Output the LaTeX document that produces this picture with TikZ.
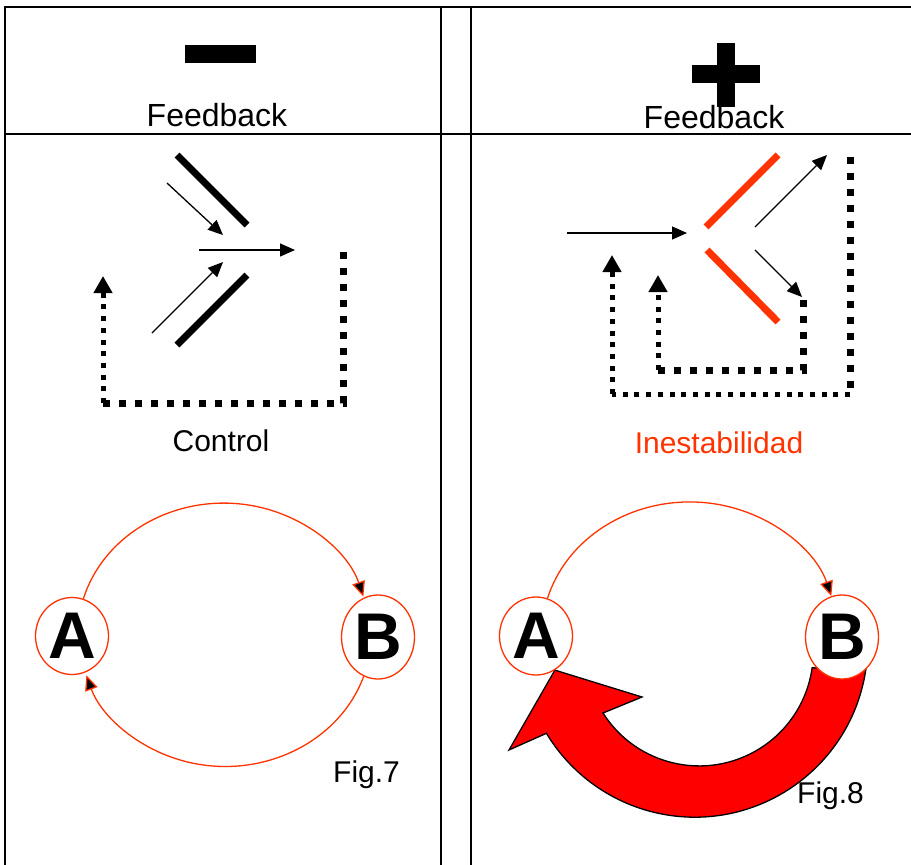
\documentclass[tikz,border=0pt]{standalone}
\usepackage{fontspec}
\setmainfont{Liberation Sans}
\usetikzlibrary{arrows.meta,shapes.geometric}
\definecolor{orred}{HTML}{FF3300}
\definecolor{bigred}{HTML}{FF0000}
\pgfdeclarelayer{back}
\pgfsetlayers{back,main}

\begin{document}
\begin{tikzpicture}[x=1pt, y=-1pt,
  rule/.style={line width=1.6pt},
  bar/.style={line width=7pt},
  flow/.style={line width=1.3pt, -{Triangle[length=15pt, width=13pt]}},
  bigdots/.style={line width=7pt, dash pattern=on 7pt off 9pt},
  smalldots/.style={line width=5pt, dash pattern=on 5pt off 6.7pt},
  tip/.style={-{Triangle[length=17pt, width=18pt]}},
  lbl/.style={font=\fontsize{30}{34}\selectfont, anchor=base, inner sep=0pt},
  head/.style={font=\fontsize{32}{36}\selectfont, anchor=base, inner sep=0pt},
  letter/.style={ellipse, draw=orred, fill=white, line width=1.3pt, inner sep=0pt,
    minimum width=73pt, font=\fontsize{66}{70}\selectfont\bfseries},
  loop/.style={orred, line width=1.3pt, -{Triangle[length=15pt, width=13pt, fill=black]}},
  bigarrow/.style={fill=bigred, draw=black, line width=1.3pt}]
    \useasboundingbox (0,0) rectangle (911,865);
    \begin{pgfonlayer}{back}
      \fill[white] (0,0) rectangle (911,865);
    \end{pgfonlayer}

    \draw[rule] (5,865) -- (5,7) -- (911,7);
    \draw[rule] (5,134) -- (911,134);
    \draw[rule] (441,7) -- (441,865);
    \draw[rule] (471,7) -- (471,865);

    \node[head] (fbneg) at (217,126) {Feedback};
    \node[head] (fbpos) at (714,128) {Feedback};
    \fill (185,45) rectangle (256,63);
    \fill (692,65) rectangle (760,83);
    \fill (717,43) rectangle (735,107);

    \draw[bar] (177,155) -- (247,225);
    \draw[bar] (177,345) -- (247,275);
    \draw[flow] (167,183) -- (223,235);
    \draw[flow] (152,333) -- (223,262);
    \draw[flow] (199,250) -- (295,250);
    \draw[bigdots] (343,252) -- (343,403) -- (103,403);
    \draw[smalldots, tip] (103,403) -- (103,276);
    \node[lbl] (ctrl) at (221,451) {Control};

    \draw[bar, orred] (706,227) -- (778,155);
    \draw[bar, orred] (707,250) -- (778,322);
    \draw[flow] (567,233) -- (687,233);
    \draw[flow] (755,227) -- (827,155);
    \draw[flow] (755,250) -- (802,297);
    \draw[bigdots] (803,300) -- (803,370) -- (658,370);
    \draw[smalldots, tip] (658,370) -- (658,275);
    \draw[bigdots] (850,157) -- (850,394);
    \draw[smalldots] (850,394) -- (612,394);
    \draw[smalldots, tip] (612,394) -- (612,255);
    \node[lbl, text=orred] (inest) at (719,453) {Inestabilidad};

    \node[letter, minimum height=77pt] (A1) at (72,636) {A};
    \node[letter, minimum height=84pt] (B1) at (378,637) {B};
    \draw[loop] (A1.73) arc[start angle=196, end angle=343, x radius=146, y radius=132];
    \draw[loop] (B1.250) arc[start angle=18.5, end angle=162, x radius=146, y radius=132];
    \node[lbl, anchor=base west] (fig7) at (333,782) {Fig.7};

    \node[letter, fill=none, minimum height=78pt] (A2) at (536,636) {A};
    \node[letter, minimum height=84pt] (B2) at (842,637) {B};
    \draw[loop] (A2.73) arc[start angle=196, end angle=343, x radius=148, y radius=133];
    \begin{pgfonlayer}{back}
      \filldraw[bigarrow] (B2.-54) arc[start angle=8.5, end angle=149, radius=173]
        -- (509,750) -- (A2.-61) -- (642,697) -- (603,713)
        arc[start angle=147.6, end angle=8, radius=114] -- cycle;
    \end{pgfonlayer}
    \node[lbl, anchor=base west] (fig8) at (797,803) {Fig.8};
\end{tikzpicture}
\end{document}
